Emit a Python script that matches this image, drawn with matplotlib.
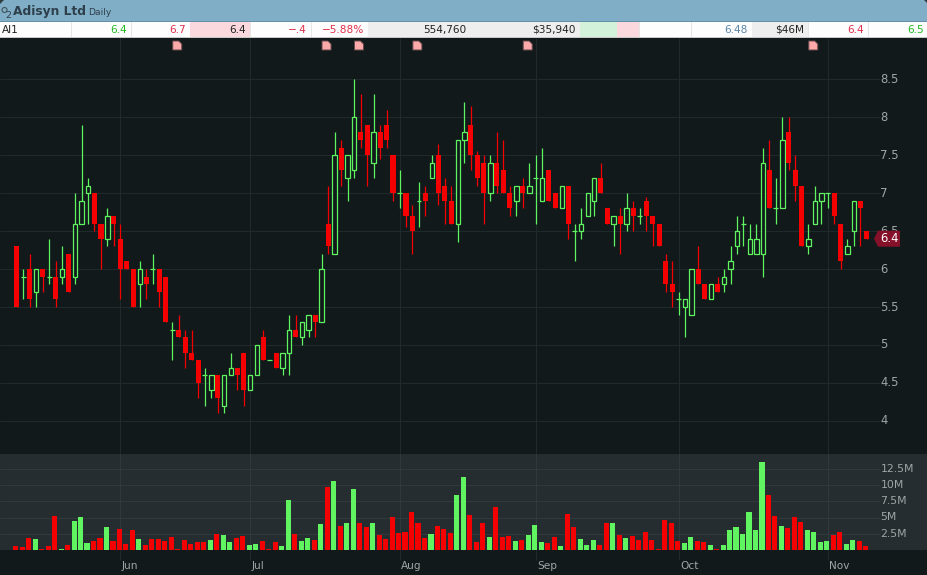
import matplotlib
matplotlib.use("Agg")
import matplotlib.pyplot as plt
from matplotlib.patches import Rectangle, Polygon, Ellipse

# ---------- data ----------
opens = [6.3,5.9,6.0,5.7,6.0,5.9,5.9,5.9,6.2,5.9,
         6.6,7.0,7.0,6.6,6.4,6.7,6.4,6.1,6.0,5.8,
         5.9,6.0,6.0,5.9,5.2,5.2,5.1,4.9,4.8,4.6,
         4.4,4.6,4.2,4.6,4.7,4.9,4.4,4.6,5.1,4.8,
         4.9,4.7,4.9,5.2,5.1,5.2,5.4,5.3,6.6,6.2,
         7.6,7.2,7.3,7.8,7.9,7.4,7.8,7.9,7.5,7.0,
         7.0,6.7,6.9,7.0,7.2,7.5,7.1,6.9,6.6,7.7,
         7.9,7.5,7.4,7.0,7.4,7.3,7.0,6.9,7.1,7.0,
         7.2,6.9,7.3,7.0,6.8,7.1,6.5,6.5,6.7,6.9,
         7.2,6.8,6.6,6.7,6.6,6.8,6.7,6.9,6.7,6.6,
         6.1,5.8,5.6,5.5,5.4,6.0,5.8,5.6,5.8,5.8,
         6.0,6.3,6.6,6.2,6.2,6.2,7.3,6.8,6.8,7.8,
         7.3,7.1,6.3,6.6,6.9,7.0,7.0,6.6,6.2,6.5,
         6.9,6.5]
closes = [5.5,5.9,5.6,6.0,5.9,5.9,5.6,6.0,5.7,6.6,
          6.9,7.1,6.6,6.4,6.7,6.6,6.0,6.0,5.5,6.0,
          5.8,6.0,5.7,5.3,5.2,5.1,4.9,4.8,4.5,4.6,
          4.6,4.3,4.6,4.7,4.6,4.4,4.6,5.0,4.8,4.8,
          4.7,4.9,5.2,5.1,5.3,5.4,5.3,6.0,6.3,7.5,
          7.3,7.5,8.0,7.7,7.5,7.8,7.6,7.7,7.0,7.0,
          6.7,6.5,6.9,6.9,7.4,7.0,6.9,6.6,7.7,7.8,
          7.5,7.2,7.0,7.4,7.1,7.0,6.8,7.1,7.0,7.1,
          7.2,7.2,6.9,6.8,7.1,6.6,6.5,6.6,7.0,7.2,
          7.0,6.6,6.7,6.6,6.8,6.7,6.7,6.7,6.6,6.3,
          5.8,5.7,5.6,5.6,6.0,5.8,5.6,5.8,5.7,5.9,
          6.1,6.5,6.6,6.4,6.4,7.4,6.8,6.8,7.7,7.4,
          7.1,6.3,6.4,6.9,7.0,7.0,6.7,6.1,6.3,6.9,
          6.8,6.4]
highs = [6.3,6.0,6.2,6.0,6.0,6.4,6.1,6.3,6.2,7.0,
         7.9,7.2,7.0,6.6,6.8,6.7,6.6,6.1,6.0,6.1,
         6.0,6.2,6.0,5.9,5.3,5.4,5.2,5.2,4.8,4.7,
         4.6,4.6,4.6,4.9,4.7,4.9,4.6,5.0,5.2,4.8,
         4.9,4.9,5.4,5.4,5.3,5.4,5.4,6.2,7.1,7.8,
         7.7,7.5,8.5,8.3,7.9,8.3,7.9,8.1,7.5,7.3,
         7.0,6.85,7.15,7.1,7.5,7.65,7.2,7.1,7.7,8.2,
         8.15,7.55,7.5,7.5,7.8,7.7,7.1,7.1,7.2,7.4,
         7.5,7.6,7.3,7.0,7.1,7.1,6.6,6.8,7.0,7.2,
         7.4,6.8,6.7,6.8,7.0,6.9,6.8,6.95,6.7,6.6,
         6.2,6.1,5.7,5.6,6.0,6.3,5.8,5.8,5.9,6.0,
         6.3,6.7,6.7,6.6,6.6,7.6,7.7,7.2,8.0,8.0,
         7.5,7.1,6.6,7.1,7.0,7.0,7.0,6.6,6.4,6.9,
         6.9,6.5]
lows = [5.5,5.6,5.5,5.5,5.7,5.8,5.5,5.8,5.7,5.8,
        6.6,6.6,6.5,6.0,6.3,6.3,5.6,6.0,5.5,5.5,
        5.6,5.8,5.5,5.3,4.8,5.1,4.7,4.8,4.3,4.2,
        4.3,4.1,4.1,4.6,4.4,4.2,4.4,4.6,4.8,4.8,
        4.7,4.6,4.6,5.1,5.0,5.1,5.1,5.3,6.2,6.2,
        7.1,6.9,7.2,7.6,7.1,7.2,7.45,7.6,6.9,6.8,
        6.55,6.2,6.55,6.7,7.2,6.85,6.6,6.6,6.35,7.4,
        7.3,7.1,6.6,6.9,7.0,7.0,6.7,6.7,6.8,7.0,
        6.6,6.9,6.9,6.8,6.8,6.4,6.1,6.4,6.7,6.7,
        7.0,6.6,6.3,6.2,6.5,6.5,6.6,6.5,6.3,6.3,
        5.7,5.5,5.4,5.1,5.4,5.8,5.6,5.6,5.7,5.7,
        5.8,6.2,6.3,6.2,6.2,5.9,6.8,6.6,6.8,7.3,
        6.9,6.3,6.2,6.6,6.6,6.8,6.6,6.0,6.2,6.3,
        6.3,6.4]
volumes = [.6,.5,1.8,1.7,.15,.6,5.2,.15,.8,4.5,
           5.1,1.1,1.4,1.8,3.5,1.4,3.2,.9,3.1,1.7,
           .8,1.7,1.7,1.4,2.0,.15,1.5,.9,1.2,1.2,
           1.5,2.5,2.3,1.2,1.8,2.2,.8,.9,1.4,.15,
           1.2,.6,7.7,2.5,1.4,1.8,1.5,4.0,9.7,10.6,
           3.7,4.2,9.4,4.2,3.5,4.2,2.3,1.7,5.1,2.6,
           2.8,5.8,4.2,1.8,2.5,3.7,3.2,2.6,8.5,11.2,
           5.4,1.2,4.2,2.0,6.6,2.0,2.2,1.4,1.5,2.3,
           3.8,1.2,1.1,2.0,.6,5.5,3.5,1.7,.8,1.5,
           .8,4.2,4.2,2.3,1.8,2.2,1.5,2.8,1.5,.1,
           4.6,4.2,1.4,1.1,2.0,1.4,1.2,.8,.15,.8,
           3.1,3.5,2.5,5.8,3.1,13.5,8.5,5.2,3.7,3.4,
           5.1,4.3,3.1,2.8,1.2,1.4,2.3,2.8,.9,1.5,
           1.4,.6]
volume_dirs = ("RRRGRRRGRGGGRRGRRRRGRRRRRRRRRRGRGGRRGGRRRGGRGGRGRGRGGRRGRRRRRRRRGRRRGG"
               "RRRGRRRGRGGGRRGRRGGGRRGRGRRRRRRRRGGRRGRGGGGGGGRRGRRRGGGGRRGGRR")
price_ticks = [4, 4.5, 5, 5.5, 6, 6.5, 7, 7.5, 8, 8.5]
price_labels = ["4", "4.5", "5", "5.5", "6", "6.5", "7", "7.5", "8", "8.5"]
vol_ticks = [2.5, 5, 7.5, 10, 12.5]
vol_labels = ["2.5M", "5M", "7.5M", "10M", "12.5M"]
month_pos = [16, 36, 59, 80, 102, 125]
month_labels = ["Jun", "Jul", "Aug", "Sep", "Oct", "Nov"]
news_pos = [25, 48, 53, 62, 79, 123]
last_price = 6.4
quote_cells = [(0, 71, "AI1", "#222222", None, "left"),
               (71, 131, "6.4", "#22bb22", None, "right"),
               (131, 190, "6.7", "#e0304a", None, "right"),
               (190, 250, "6.4", "#222222", "#fad8de", "right"),
               (250, 311, "\u2212.4", "#e0304a", None, "right"),
               (311, 368, "\u22125.88%", "#e0304a", None, "right"),
               (368, 470, "554,760", "#222222", "#eeeeee", "right"),
               (470, 580, "$35,940", "#222222", "#eeeeee", "right"),
               (580, 617, "", "#222222", "#d3f2da", "right"),
               (617, 639, "", "#222222", "#fad8de", "right"),
               (639, 691, "", "#222222", None, "right"),
               (691, 752, "6.48", "#5b87a8", None, "right"),
               (752, 808, "$46M", "#222222", "#eeeeee", "right"),
               (808, 868, "6.4", "#e0304a", None, "right"),
               (868, 928, "6.5", "#22bb22", None, "right")]

# ---------- style ----------
W, H = 928, 575
BG = "#11191b"
VBG = "#252d30"
GRID = "#1f2a2c"
VGRID = "#303a3d"
GREEN = "#60f560"
RED = "#f50000"
TXT = "#a0a5a5"
plt.rcParams["font.family"] = ["DejaVu Sans"]
PX = 0.72
CANDLE_LW = 0.9

fig = plt.figure(figsize=(W / 100, H / 100), dpi=100, facecolor=BG)


def axes_px(x0, y0, x1, y1, **kw):
    return fig.add_axes([x0 / W, 1 - y1 / H, (x1 - x0) / W, (y1 - y0) / H], **kw)


# chrome layer
chrome = axes_px(0, 0, W, H, zorder=0)
chrome.set_xlim(0, W)
chrome.set_ylim(H, 0)
chrome.axis("off")
chrome.add_patch(Rectangle((0, 0), W, H, fc=BG, ec="none"))
chrome.add_patch(Rectangle((0, 0), W, 22, fc="#80aec6", ec="none"))
chrome.add_patch(Rectangle((0, 21), W, 1, fc="#648fa8", ec="none"))
chrome.add_patch(Rectangle((0, 22), W, 16, fc="#fdfdfd", ec="none"))
chrome.add_patch(Rectangle((0, 37), W, 1, fc="#c8c8c8", ec="none"))
chrome.add_patch(Polygon([(0, 0), (4, 0), (0, 4)], fc="#333d44", ec="none"))
chrome.add_patch(Polygon([(928, 0), (924, 0), (928, 4)], fc="#333d44", ec="none"))
chrome.text(8.5, 15.5, "2", fontsize=6.8, color="#2e3f4c", ha="center", va="center")
chrome.add_patch(Ellipse((4.5, 10), 5, 5, fc="none", ec="#46535c", lw=0.8))
chrome.text(13.5, 12, "Adisyn Ltd", fontsize=8.8, fontweight="bold", color="#2e3f4c", va="center", ha="left")
chrome.text(88, 12.5, "Daily", fontsize=6.6, color="#2e3f4c", va="center", ha="left")
for x0, x1, label, col, bg, align in quote_cells:
    if bg:
        chrome.add_patch(Rectangle((x0, 22), x1 - x0, 15, fc=bg, ec="none"))
    if x0 > 0 and not bg:
        chrome.add_patch(Rectangle((x0, 22), 1, 15, fc="#e6e6e6", ec="none"))
    tx = x0 + 2 if align == "left" else x1 - 4
    chrome.text(tx, 30, label, fontsize=7.6, color=col, ha=align, va="center")

# price panel
ax = axes_px(0, 38, W, 454, zorder=2)
ax.set_facecolor("none")
PX_PER_BAR = 6.49
X0 = 16.6
xlim = (-X0 / PX_PER_BAR, (W - X0) / PX_PER_BAR)
ax.set_xlim(*xlim)
ax.set_ylim(8.5 - (454 - 79.3) / 75.9, 8.5 + (79.3 - 38) / 75.9)
ax.axis("off")
yt = ax.get_yaxis_transform()
ax.hlines(price_ticks, 0, 880 / W, transform=yt, color=GRID, lw=PX, zorder=1)
ax.vlines(month_pos, 0, 1, transform=ax.get_xaxis_transform(), color=GRID, lw=PX, zorder=1)

for i, (o, h, l, c) in enumerate(zip(opens, highs, lows, closes)):
    up = c >= o
    col = GREEN if up else RED
    ax.vlines(i, l, h, color=col, lw=CANDLE_LW, zorder=3)
    if o == c:
        ax.hlines(c, i - 0.38, i + 0.38, color=col, lw=CANDLE_LW, zorder=3)
    elif up:
        ax.add_patch(Rectangle((i - 0.34, o), 0.68, c - o, fc=BG, ec=col, lw=CANDLE_LW, zorder=4))
    else:
        ax.add_patch(Rectangle((i - 0.39, c), 0.78, o - c, fc=col, ec="none", zorder=4))

for t, lab in zip(price_ticks, price_labels):
    ax.text(880.5 / W, t, lab, transform=yt, color=TXT, fontsize=8.4, va="center", ha="left", zorder=5)

# last price tag
hh = 8 / 75.9
ax.add_patch(Polygon([(874 / W, last_price), (878 / W, last_price + hh), (900 / W, last_price + hh),
                      (900 / W, last_price - hh), (878 / W, last_price - hh)],
                     transform=yt, fc="#85102a", ec="none", zorder=6))
ax.text(880 / W, last_price, "6.4", transform=yt, color="white", fontsize=8.4, va="center", ha="left", zorder=7)

# news markers
for p in news_pos:
    left = X0 + PX_PER_BAR * p - 6.1
    chrome.add_patch(Polygon([(left, 41), (left + 6, 41), (left + 9, 44), (left + 9, 50), (left, 50)],
                             fc="#ffaaaa", ec="#66494b", lw=0.7, zorder=8))

# volume panel
vax = axes_px(0, 454, W, 550, zorder=2)
vax.set_facecolor(VBG)
vax.set_xlim(*xlim)
vax.set_ylim(0, 96 / 6.5)
vax.set_xticks([])
vax.set_yticks([])
for s in vax.spines.values():
    s.set_visible(False)
vyt = vax.get_yaxis_transform()
vax.hlines(vol_ticks, 0, 880 / W, transform=vyt, color=VGRID, lw=PX, zorder=1)
vax.vlines(month_pos, 0, 1, transform=vax.get_xaxis_transform(), color=VGRID, lw=PX, zorder=1)
vx = [i - 0.15 for i in range(len(volumes))]
vcols = [GREEN if d == "G" else RED for d in volume_dirs]
vax.bar(vx, volumes, width=0.78, color=vcols, zorder=3)
for t, lab in zip(vol_ticks, vol_labels):
    vax.text(880.5 / W, t, lab, transform=vyt, color=TXT, fontsize=7.8, va="center", ha="left", zorder=5)

# month axis
bax = axes_px(0, 550, W, 575, zorder=1)
bax.set_xlim(*xlim)
bax.set_ylim(0, 1)
bax.axis("off")
bax.vlines(month_pos, 0.6, 1, color=GRID, lw=PX)
for p, lab in zip(month_pos, month_labels):
    bax.text(p + 0.2, 0.36, lab, color=TXT, fontsize=7.6, va="center", ha="left")

fig.savefig("out.png", dpi=100, facecolor=fig.get_facecolor())
